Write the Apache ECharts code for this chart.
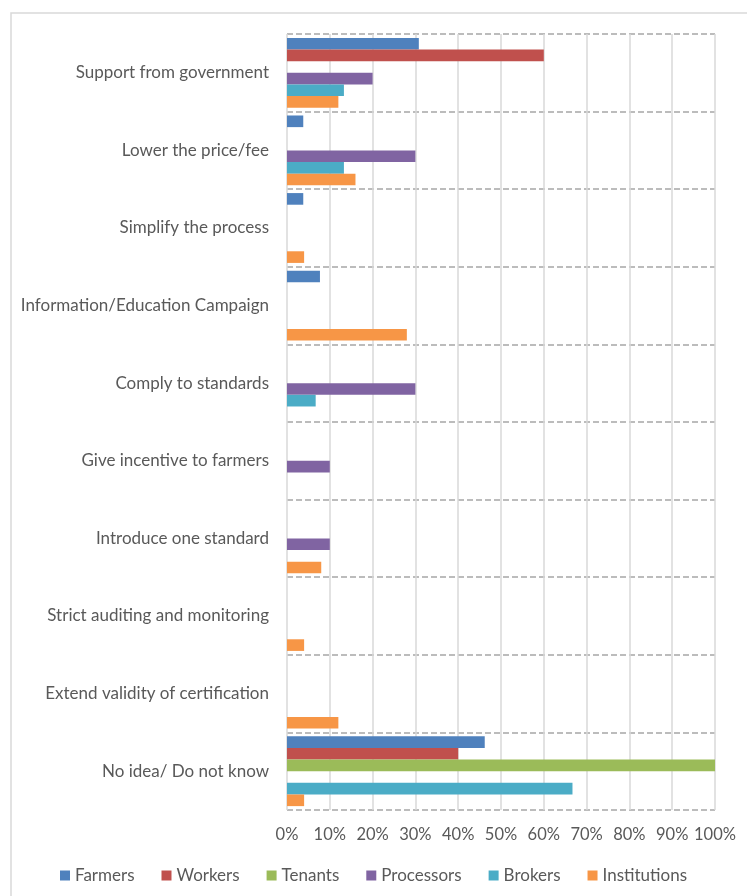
<!DOCTYPE html>
<html><head><meta charset="utf-8">
<script src="https://cdn.jsdelivr.net/npm/echarts@6/dist/echarts.min.js"></script>
<style>html,body{margin:0;padding:0;background:#fff}#c{width:747px;height:896px}</style>
</head><body><div id="c"></div>
<script>
const categories = ["Support from government","Lower the price/fee","Simplify the process","Information/Education Campaign","Comply to standards","Give incentive to farmers","Introduce one standard","Strict auditing and monitoring","Extend validity of certification","No idea/ Do not know"];
const farmers      = [30.8, 3.8, 3.8, 7.7, 0, 0, 0, 0, 0, 46.2];
const workers      = [60, 0, 0, 0, 0, 0, 0, 0, 0, 40];
const tenants      = [0, 0, 0, 0, 0, 0, 0, 0, 0, 100];
const processors   = [20, 30, 0, 0, 30, 10, 10, 0, 0, 0];
const brokers      = [13.3, 13.3, 0, 0, 6.7, 0, 0, 0, 0, 66.7];
const institutions = [12, 16, 4, 28, 0, 0, 8, 4, 12, 4];
const seriesNames  = ["Farmers","Workers","Tenants","Processors","Brokers","Institutions"];
const seriesData   = [farmers, workers, tenants, processors, brokers, institutions];
const colors = ["#4F81BD","#C0504D","#9BBB59","#8064A2","#4BACC6","#F79646"];
const font = "Lato";
const chart = echarts.init(document.getElementById('c'));
chart.setOption({
  animation:false,
  color: colors,
  graphic:[{type:'rect',shape:{x:11,y:13,width:800,height:900},style:{fill:'none',stroke:'#d9d9d9',lineWidth:1.5},silent:true}],
  grid:{left:287,right:32,top:34,bottom:86,containLabel:false},
  xAxis:{type:'value',min:0,max:100,interval:10,
    axisLabel:{formatter:'{value}%',color:'#595959',fontFamily:font,fontSize:16.5,margin:16},
    axisLine:{show:false},axisTick:{show:false},
    splitLine:{show:true,lineStyle:{color:'#d9d9d9',width:1.5}}},
  yAxis:{type:'category',data:categories,inverse:true,
    axisLabel:{color:'#595959',fontFamily:font,fontSize:17,margin:18},
    axisLine:{show:false},axisTick:{show:false},
    splitLine:{show:true,lineStyle:{color:'#a6a6a6',type:[6,3],width:1.5}}},
  legend:{bottom:7,left:'center',itemWidth:10,itemHeight:10,itemGap:27,icon:'rect',
    textStyle:{color:'#595959',fontFamily:font,fontSize:17},data:seriesNames},
  series: seriesNames.map((n,i)=>({name:n,type:'bar',data:seriesData[i],barGap:'0%',barCategoryGap:'10%'}))
});
</script></body></html>
